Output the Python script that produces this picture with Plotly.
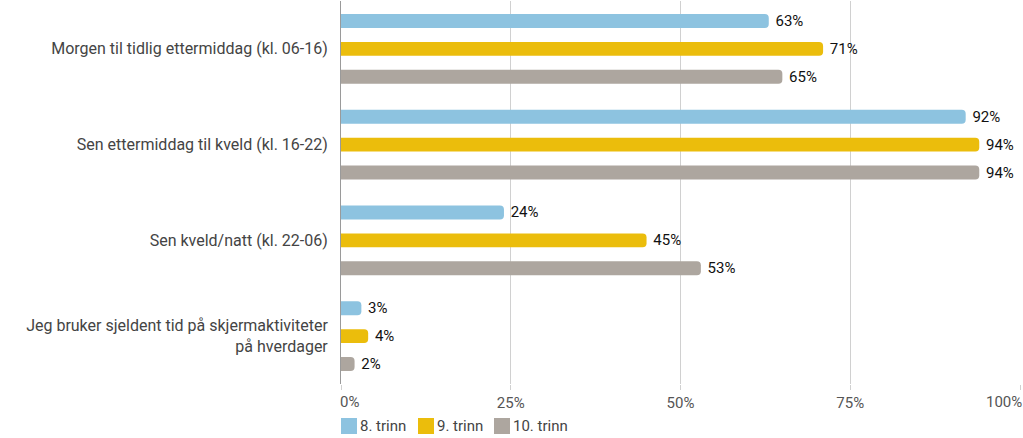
import plotly.graph_objects as go

categories = [
    "Morgen til tidlig ettermiddag (kl. 06-16)",
    "Sen ettermiddag til kveld (kl. 16-22)",
    "Sen kveld/natt (kl. 22-06)",
    "Jeg bruker sjeldent tid på skjermaktiviteter<br>på hverdager",
]
series_names = ["8. trinn", "9. trinn", "10. trinn"]
trinn8 = [63, 92, 24, 3]
trinn9 = [71, 94, 45, 4]
trinn10 = [65, 94, 53, 2]
colors = ["#8DC3E0", "#EBBD0C", "#ADA69F"]
tick_vals = [0, 25, 50, 75, 100]
tick_text = ["0%", "25%", "50%", "75%", "100%"]

fig = go.Figure()
for name, vals, col in zip(series_names, [trinn8, trinn9, trinn10], colors):
    fig.add_trace(go.Bar(
        y=categories, x=vals, name=name, orientation="h",
        marker=dict(color=col, line=dict(width=0)),
        text=[f" {v}%" for v in vals], textposition="outside",
        textfont=dict(color="#111111", size=15, family="Roboto"),
        constraintext="none", cliponaxis=False,
    ))

# x tick labels: inner ones on axis, end ones kept inside the plot width
inner_text = [t if 0 < v < 100 else "" for v, t in zip(tick_vals, tick_text)]
annotations = [
    dict(x=tick_vals[0], y=0, xref="x", yref="paper", yanchor="top", yshift=-7,
         xanchor="left", xshift=-3, text=tick_text[0], showarrow=False,
         font=dict(size=15, color="#555555", family="Roboto")),
    dict(x=tick_vals[-1], y=0, xref="x", yref="paper", yanchor="top", yshift=-7,
         xanchor="right", xshift=4, text=tick_text[-1], showarrow=False,
         font=dict(size=15, color="#555555", family="Roboto")),
]

# custom legend (paper pixel placement)
shapes = []
legend_x = [341, 418, 494]
W, H = 1023, 438
ml, mr, mt, mb = 341, 3, 1, 54
pw, ph = W - ml - mr, H - mt - mb
for name, col, lx in zip(series_names, colors, legend_x):
    x0 = (lx - ml) / pw
    x1 = (lx + 16 - ml) / pw
    y0 = (H - mb - 418) / ph
    y1 = (H - mb - 434) / ph
    shapes.append(dict(type="rect", xref="paper", yref="paper", x0=x0, x1=x1,
                       y0=y1, y1=y0, fillcolor=col, line=dict(width=0), layer="above"))
    annotations.append(dict(x=(lx + 17 - ml) / pw, y=(H - mb - 426) / ph, xref="paper",
                            yref="paper", xanchor="left", yanchor="middle", text=name,
                            showarrow=False, font=dict(size=15, color="#444444", family="Roboto")))

fig.update_layout(
    width=W, height=H,
    margin=dict(l=ml, r=mr, t=mt, b=mb),
    barmode="group", bargap=0.125, bargroupgap=0.5,
    barcornerradius=4,
    plot_bgcolor="white", paper_bgcolor="white",
    font=dict(family="Roboto", size=16, color="#444444"),
    showlegend=False,
    annotations=annotations, shapes=shapes,
    xaxis=dict(range=[0, 100], tickvals=tick_vals, ticktext=inner_text,
               showgrid=True, gridcolor="#d0d0d0", gridwidth=1, automargin=False,
               zeroline=False, ticks="outside", ticklen=5, tickcolor="#d0d0d0",
               tickfont=dict(size=15, color="#555555"), showline=False),
    yaxis=dict(autorange="reversed", showline=True, linecolor="#9a9a9a", linewidth=1,
               automargin=False, ticks="", tickfont=dict(size=16, color="#444444"),
               ticklabelstandoff=9),
)
fig.write_html("out.html", config={"displayModeBar": False},
               post_script="document.body.style.margin='0';document.body.style.overflow='hidden';")
